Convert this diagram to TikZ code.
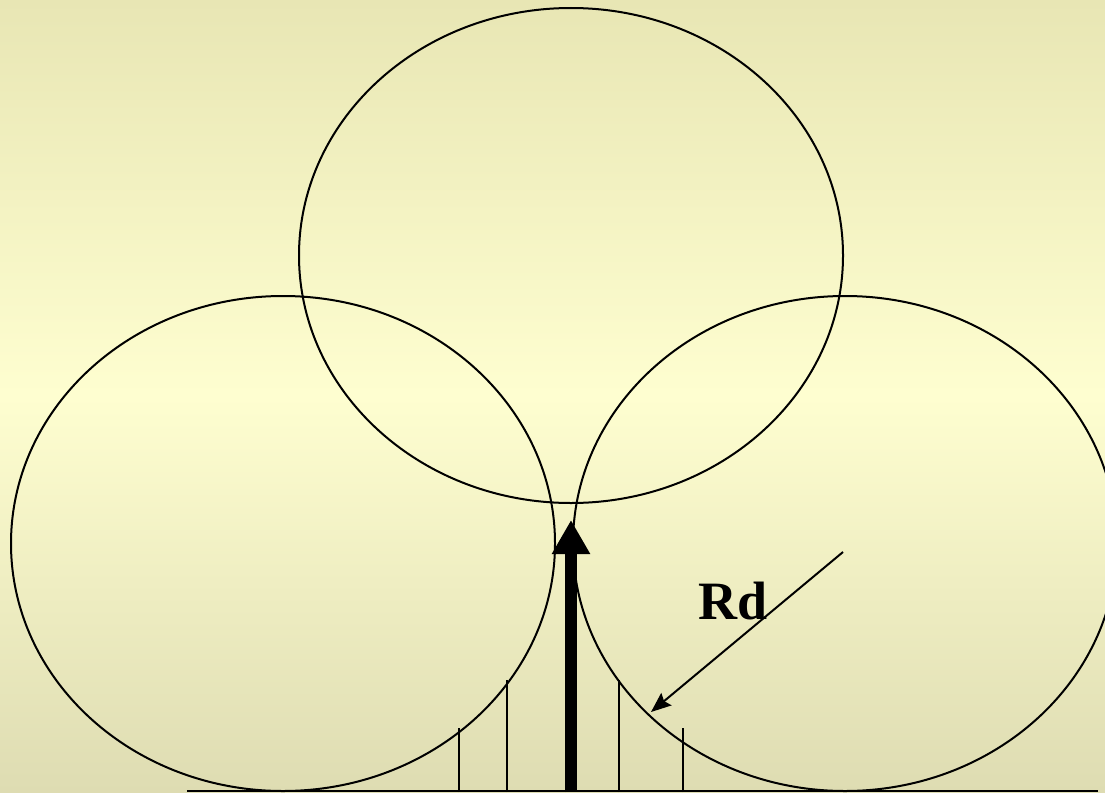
\documentclass[tikz,border=0pt]{standalone}
\usepackage{fontspec}
\setmainfont{Liberation Serif}
\usetikzlibrary{shapes.geometric,arrows.meta}
\definecolor{bgtop}{HTML}{E8E6B4}
\definecolor{bgmid}{HTML}{FEFED0}
\definecolor{bgbot}{HTML}{DEDCB2}
\tikzset{
  circ/.style={ellipse,draw=black,line width=2pt,minimum width=544pt,minimum height=495pt,inner sep=0pt},
  tick/.style={draw=black,line width=2pt},
  thinarrow/.style={draw=black,line width=2pt,-{Stealth[length=20pt,width=16pt,inset=3pt]}},
  bigarrow/.style={draw=black,line width=12pt,-{Triangle[length=34pt,width=36pt]}},
}
\begin{document}
\begin{tikzpicture}[x=1pt,y=-1pt]
\useasboundingbox (0,0) rectangle (1105,792);
\shade[top color=bgtop,bottom color=bgbot,middle color=bgmid,shading angle=0] (0,0) rectangle (1105,792);
\clip (0,0) rectangle (1105,792);
\node[circ] (top) at (571,255.5) {};
\node[circ] (left) at (283,543.5) {};
\node[circ] (right) at (845,543.5) {};
% baseline
\coordinate (b0) at (187,791);
\coordinate (b1) at (1098,791);
\draw[line width=2pt] (b0) -- (b1);
% ticks
\coordinate (t1b) at (459,792); \coordinate (t1t) at (459,728);
\coordinate (t2b) at (507,792); \coordinate (t2t) at (507,680);
\coordinate (t3b) at (619,792); \coordinate (t3t) at (619,680);
\coordinate (t4b) at (683,792); \coordinate (t4t) at (683,728);
\draw[tick] (t1b) -- (t1t);
\draw[tick] (t2b) -- (t2t);
\draw[tick] (t3b) -- (t3t);
\draw[tick] (t4b) -- (t4t);
% big arrow
\coordinate (ab) at (571,792);
\coordinate (at) at (571,520);
\draw[bigarrow] (ab) -- (at);
% Rd arrow
\coordinate (rs) at (843,552);
\coordinate (re) at (651,712);
\draw[thinarrow] (rs) -- (re);
\node[font=\fontsize{54}{60}\selectfont\bfseries,inner sep=0pt] (rd) at (733,601) {Rd};
\end{tikzpicture}
\end{document}
